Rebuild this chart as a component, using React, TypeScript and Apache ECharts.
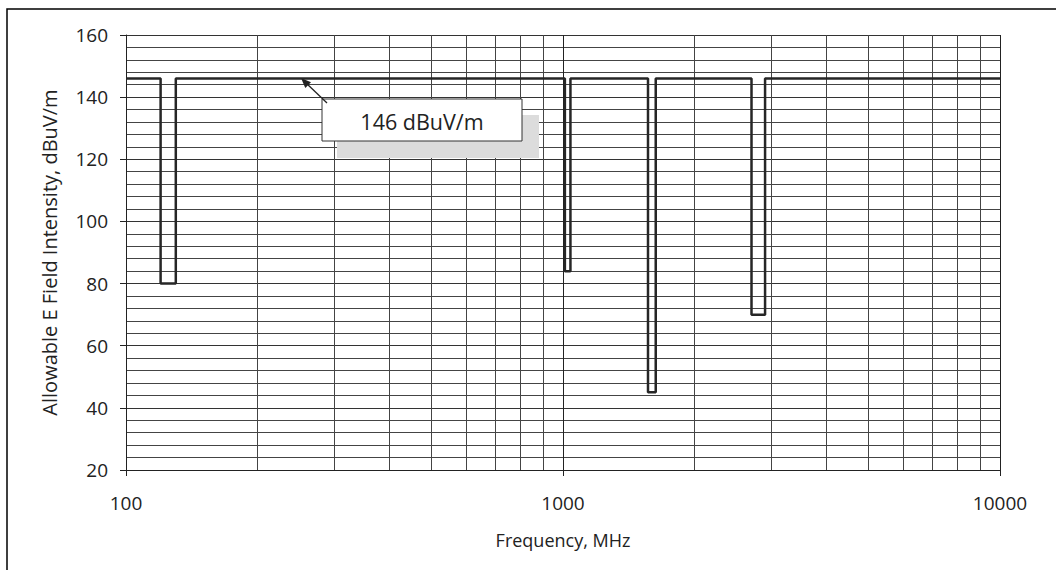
import React, { useEffect, useRef } from "react";
import * as echarts from "echarts";

// Step-limit curve corners (frequency in MHz, allowable field in dBuV/m)
const freqMHz = [100, 120, 120, 130, 130, 1010, 1010, 1040, 1040, 1565, 1565, 1630, 1630, 2700, 2700, 2900, 2900, 10000];
const fieldDbuv = [146, 146, 80, 80, 146, 146, 84, 84, 146, 146, 45, 45, 146, 146, 70, 70, 146, 146];

// Minor vertical grid lines of the log axis
const minorFreqs = [200, 300, 400, 500, 600, 700, 800, 900, 2000, 3000, 4000, 5000, 6000, 7000, 8000, 9000];

const xMin = 100;
const xMax = 10000;
const yMin = 20;
const yMax = 160;
const yInterval = 20;

const xTitle = "Frequency, MHz";
const yTitle = "Allowable E Field Intensity, dBuV/m";
const calloutText = "146 dBuV/m";

const FONT = "'Open Sans', 'Noto Sans', sans-serif";

export default function App() {
  const ref = useRef<HTMLDivElement>(null);

  useEffect(() => {
    if (!ref.current) return;
    const chart = echarts.init(ref.current, undefined, { renderer: "svg" });
    const lineData = freqMHz.map((f, i) => [f, fieldDbuv[i]]);

    chart.setOption({
      animation: false,
      backgroundColor: "#ffffff",
      grid: { left: 126, right: 56, top: 35, bottom: 100, containLabel: false },
      xAxis: {
        type: "log",
        logBase: 10,
        min: xMin,
        max: xMax,
        name: xTitle,
        nameLocation: "middle",
        nameGap: 61,
        nameTextStyle: { fontFamily: FONT, fontSize: 18, color: "#222" },
        axisLine: { show: true, lineStyle: { color: "#222", width: 1 } },
        axisTick: { show: true, length: 6, lineStyle: { color: "#222" } },
        axisLabel: {
          fontFamily: FONT,
          fontSize: 19,
          color: "#222",
          margin: 23,
          formatter: (v: number) => String(Math.round(v)),
        },
        splitLine: { show: true, lineStyle: { color: "#222", width: 1 } },
      },
      yAxis: {
        type: "value",
        min: yMin,
        max: yMax,
        interval: yInterval,
        name: yTitle,
        nameLocation: "middle",
        nameGap: 67,
        nameTextStyle: { fontFamily: FONT, fontSize: 20, color: "#222" },
        axisLine: { show: true, lineStyle: { color: "#222", width: 1 } },
        axisTick: { show: true, length: 6, lineStyle: { color: "#222" } },
        axisLabel: { fontFamily: FONT, fontSize: 19, color: "#222", margin: 18 },
        splitLine: { show: true, lineStyle: { color: "#333", width: 1 } },
        minorTick: { show: false, splitNumber: 5 },
        minorSplitLine: { show: true, lineStyle: { color: "#444", width: 1 } },
      },
      series: [
        {
          type: "line",
          name: "grid",
          data: [],
          silent: true,
          z: 1,
          markLine: {
            silent: true,
            symbol: ["none", "none"],
            label: { show: false },
            lineStyle: { color: "#444", width: 1, type: "solid" },
            data: minorFreqs.map((f) => ({ xAxis: f })),
          },
        },
        {
          type: "line",
          name: "limit",
          data: lineData,
          showSymbol: false,
          symbol: "none",
          z: 5,
          lineStyle: { color: "#262626", width: 2.5 },
        },
      ],
      graphic: [
        {
          type: "rect",
          shape: { x: 7, y: 9, width: 1070, height: 590 },
          style: { fill: "none", stroke: "#000", lineWidth: 1.5 },
          silent: true,
          z: 100,
        },
        {
          type: "rect",
          shape: { x: 337, y: 115, width: 202, height: 43 },
          style: { fill: "#dcdcdc" },
          z: 100,
        },
        {
          type: "rect",
          shape: { x: 322, y: 99, width: 200, height: 42 },
          style: { fill: "#ffffff", stroke: "#333", lineWidth: 1 },
          z: 101,
        },
        {
          type: "text",
          x: 422,
          y: 121,
          style: {
            text: calloutText,
            fontFamily: FONT,
            fontSize: 21.5,
            fill: "#222",
            align: "center",
            verticalAlign: "middle",
          },
          z: 102,
        },
        {
          type: "line",
          shape: { x1: 327, y1: 103, x2: 305, y2: 82 },
          style: { stroke: "#222", lineWidth: 1.3 },
          z: 102,
        },
        {
          type: "polygon",
          shape: { points: [[301, 78], [311, 82.2], [305.3, 88]] },
          style: { fill: "#222" },
          z: 102,
        },
      ],
    });

    return () => chart.dispose();
  }, []);

  return (
    <div
      ref={ref}
      style={{ position: "absolute", left: 0, top: 0, width: 1056, height: 570 }}
    />
  );
}
